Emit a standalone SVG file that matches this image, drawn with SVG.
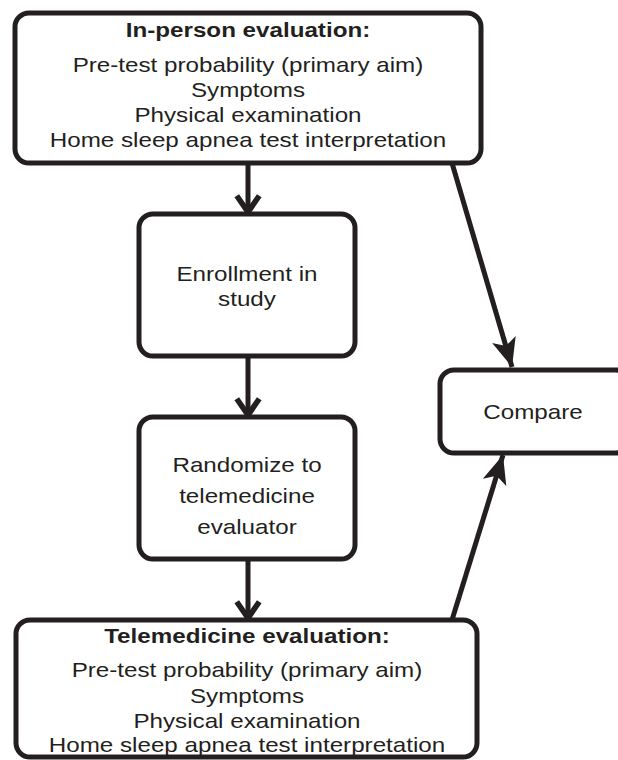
<svg xmlns="http://www.w3.org/2000/svg" width="618" height="760" viewBox="0 0 618 760">
<style>
.box{fill:#fff;stroke:#231f20;stroke-width:5}
.t{font-family:"Liberation Sans",Arial,sans-serif;font-size:20.5px;fill:#231f20;text-anchor:middle}
.b{font-weight:bold}
.c{stroke:#231f20;stroke-width:5;fill:none}
</style>
<defs>
<marker id="chev" markerUnits="userSpaceOnUse" markerWidth="30" markerHeight="30" viewBox="-2 -2 20 24" refX="14" refY="10" orient="auto">
<path d="M1,1 L14,10 L1,19" fill="none" stroke="#231f20" stroke-width="4.5"/>
</marker>
<marker id="tri" markerUnits="userSpaceOnUse" markerWidth="30" markerHeight="30" viewBox="0 0 22 18" refX="21" refY="9" orient="auto">
<path d="M0,0 L21,9 L0,18 L5,9 z" fill="#231f20"/>
</marker>
</defs>
<g id="connectors">
<line class="c" x1="248" y1="163" x2="248" y2="212" marker-end="url(#chev)"/>
<line class="c" x1="248" y1="357" x2="248" y2="415" marker-end="url(#chev)"/>
<line class="c" x1="248" y1="560" x2="248" y2="618" marker-end="url(#chev)"/>
<line class="c" x1="452" y1="163" x2="512" y2="367" marker-end="url(#tri)"/>
<line class="c" x1="452" y1="620" x2="503" y2="455" marker-end="url(#tri)"/>
</g>
<g id="inperson">
<rect class="box" x="15" y="13" width="466" height="150" rx="14"/>
<g transform="translate(248,0) scale(1.18,1)">
<text class="t b" x="0" y="37">In-person evaluation:</text>
<text class="t" x="0" y="72">Pre-test probability (primary aim)</text>
<text class="t" x="0" y="97">Symptoms</text>
<text class="t" x="0" y="122">Physical examination</text>
<text class="t" x="0" y="147">Home sleep apnea test interpretation</text>
</g>
</g>
<g id="enrollment">
<rect class="box" x="139" y="214" width="216" height="142" rx="14"/>
<g transform="translate(247,0) scale(1.18,1)">
<text class="t" x="0" y="281">Enrollment in</text>
<text class="t" x="0" y="306">study</text>
</g>
</g>
<g id="randomize">
<rect class="box" x="139" y="417" width="216" height="142" rx="14"/>
<g transform="translate(247,0) scale(1.18,1)">
<text class="t" x="0" y="472">Randomize to</text>
<text class="t" x="0" y="503">telemedicine</text>
<text class="t" x="0" y="534">evaluator</text>
</g>
</g>
<g id="compare">
<rect class="box" x="440" y="370" width="190" height="83" rx="14"/>
<g transform="translate(533,0) scale(1.18,1)">
<text class="t" x="0" y="419">Compare</text>
</g>
</g>
<g id="telemedicine">
<rect class="box" x="16" y="620" width="461" height="137" rx="14"/>
<g transform="translate(247,0) scale(1.18,1)">
<text class="t b" x="0" y="643">Telemedicine evaluation:</text>
<text class="t" x="0" y="677">Pre-test probability (primary aim)</text>
<text class="t" x="0" y="703">Symptoms</text>
<text class="t" x="0" y="728">Physical examination</text>
<text class="t" x="0" y="752">Home sleep apnea test interpretation</text>
</g>
</g>
</svg>
